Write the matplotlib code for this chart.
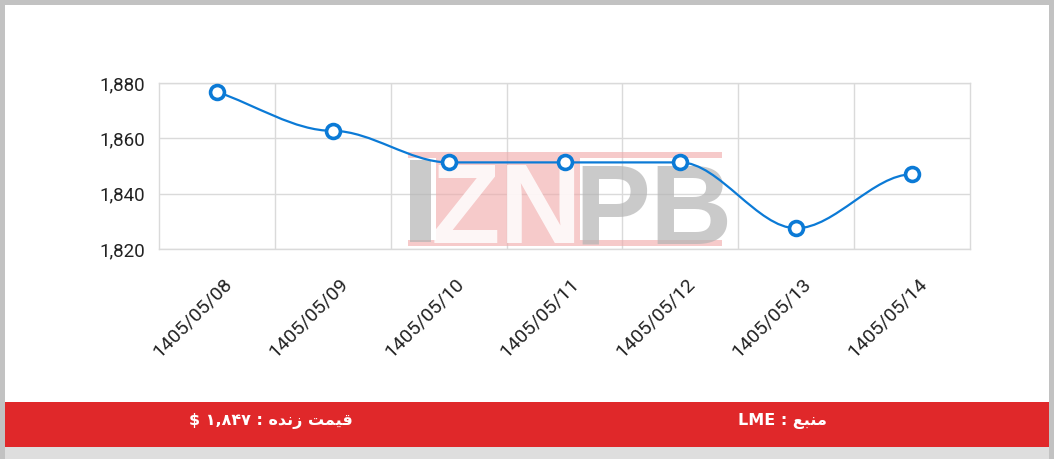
import numpy as np
import matplotlib
matplotlib.use("Agg")
import matplotlib.pyplot as plt
from matplotlib.path import Path
from matplotlib.patches import PathPatch, Rectangle
from matplotlib.ticker import FuncFormatter, FixedLocator
from matplotlib.transforms import ScaledTranslation

# data
dates = ["1405/05/08", "1405/05/09", "1405/05/10", "1405/05/11",
         "1405/05/12", "1405/05/13", "1405/05/14"]
prices = [1876.8, 1862.7, 1851.3, 1851.3, 1851.3, 1827.5, 1847.0]
y_ticks = [1820, 1840, 1860, 1880]

# footer texts (visual order, arabic presentation forms)
live_price = "$ \u06F1,\u06F8\u06F4\u06F7 : \uFEE9\uFEAA\uFEE7\uFEAF \uFE96\uFEE4\uFEF4\uFED7"
source = "LME : \uFECA\uFE92\uFEE8\uFEE3"

W, H = 1054, 459
BLUE = "#0b7ad6"
RED = "#e0282a"


def fx(px):
    return px / W


def fy(py):
    return 1 - py / H


def smooth_path(x, y):
    # bezier segments, flat tangent at every point except the first one
    x = np.asarray(x, float)
    y = np.asarray(y, float)
    n = len(x)
    t = np.zeros(n)
    t[0] = (y[1] - y[0]) / (x[1] - x[0])
    verts = [(x[0], y[0])]
    codes = [Path.MOVETO]
    for i in range(n - 1):
        d = (x[i + 1] - x[i]) / 3
        verts += [(x[i] + d, y[i] + t[i] * d),
                  (x[i + 1] - d, y[i + 1] - t[i + 1] * d),
                  (x[i + 1], y[i + 1])]
        codes += [Path.CURVE4] * 3
    return Path(verts, codes)


fig = plt.figure(figsize=(W / 100, H / 100), dpi=100)
fig.patch.set_facecolor("#c2c2c2")

# frame, white card, red footer
fig.patches.append(Rectangle((fx(5), fy(402)), fx(1044), 397 / H, transform=fig.transFigure,
                             facecolor="white", edgecolor="none", zorder=-5))
fig.patches.append(Rectangle((fx(5), fy(447)), fx(1044), 45 / H, transform=fig.transFigure,
                             facecolor=RED, edgecolor="none", zorder=-5))
fig.patches.append(Rectangle((fx(5), 0), fx(1044), 12 / H, transform=fig.transFigure,
                             facecolor="#dedede", edgecolor="none", zorder=-5))

ax = fig.add_axes([fx(159), fy(249), fx(970 - 159), (249 - 83) / H])
ax.set_facecolor("none")

x = np.arange(len(dates))
ax.add_patch(PathPatch(smooth_path(x, prices), facecolor="none", edgecolor=BLUE,
                       lw=1.6, zorder=3))
ax.plot(x, prices, linestyle="none", marker="o", markersize=10, markerfacecolor="white",
        markeredgecolor=BLUE, markeredgewidth=2.6, zorder=4, clip_on=False)

ax.set_xlim(-0.5, len(dates) - 0.5)
ax.set_ylim(1820, 1880)
ax.set_xticks(x)
ax.set_xticklabels(dates, rotation=45, ha="right", va="center", rotation_mode="anchor",
                   fontsize=14, color="#222222", family="Roboto")
ax.xaxis.set_minor_locator(FixedLocator(x[:-1] + 0.5))
ax.set_yticks(y_ticks)
ax.yaxis.set_major_formatter(FuncFormatter(lambda v, p: f"{v:,.0f}"))
for lab in ax.get_yticklabels():
    lab.set_fontsize(13.5)
    lab.set_family("Roboto")
    lab.set_color("#222222")
ax.tick_params(axis="both", which="both", length=0)
ax.tick_params(axis="y", pad=10)
ax.tick_params(axis="x", pad=23)
for lab in ax.get_xticklabels():
    lab.set_transform(lab.get_transform() + ScaledTranslation(0.12, 0, fig.dpi_scale_trans))

ax.grid(axis="y", which="major", color="#dadada", lw=1)
ax.grid(axis="x", which="minor", color="#dadada", lw=1)
for sp in ax.spines.values():
    sp.set_color("#dadada")
    sp.set_linewidth(1)
ax.set_axisbelow(True)

# watermark, above the grid and below the line
wm_pink = "#f0a8a8"
wm_gray = "#b4b4b4"
for y0 in (152, 240):
    ax.add_patch(Rectangle((fx(408), fy(y0 + 6)), fx(314), 6 / H, transform=fig.transFigure,
                           facecolor=wm_pink, alpha=0.6, edgecolor="none", zorder=1, clip_on=False))
ax.add_patch(Rectangle((fx(436), fy(240)), fx(144), 82 / H, transform=fig.transFigure,
                       facecolor=wm_pink, alpha=0.6, edgecolor="none", zorder=1, clip_on=False))
ax.add_patch(Rectangle((fx(410), fy(242)), fx(21), 82 / H, transform=fig.transFigure,
                       facecolor=wm_gray, alpha=0.7, edgecolor="none", zorder=1, clip_on=False))
ax.text(fx(507), fy(243), "ZN", fontsize=82, fontweight="bold", family="Liberation Sans",
        color="white", alpha=0.85, ha="center", va="baseline", zorder=1,
        transform=fig.transFigure, clip_on=False)
ax.text(fx(654), fy(243), "PB", fontsize=82, fontweight="bold", family="Liberation Sans",
        color=wm_gray, alpha=0.7, ha="center", va="baseline", zorder=1,
        transform=fig.transFigure, clip_on=False)

# footer
fig.text(fx(271), fy(421), live_price, fontsize=11.5, fontweight="bold", color="white",
         ha="center", va="center", family=["DejaVu Sans"])
fig.text(fx(782), fy(421), source, fontsize=11.5, fontweight="bold", color="white",
         ha="center", va="center", family=["DejaVu Sans"])

fig.savefig("out.png", dpi=100, facecolor=fig.get_facecolor())
